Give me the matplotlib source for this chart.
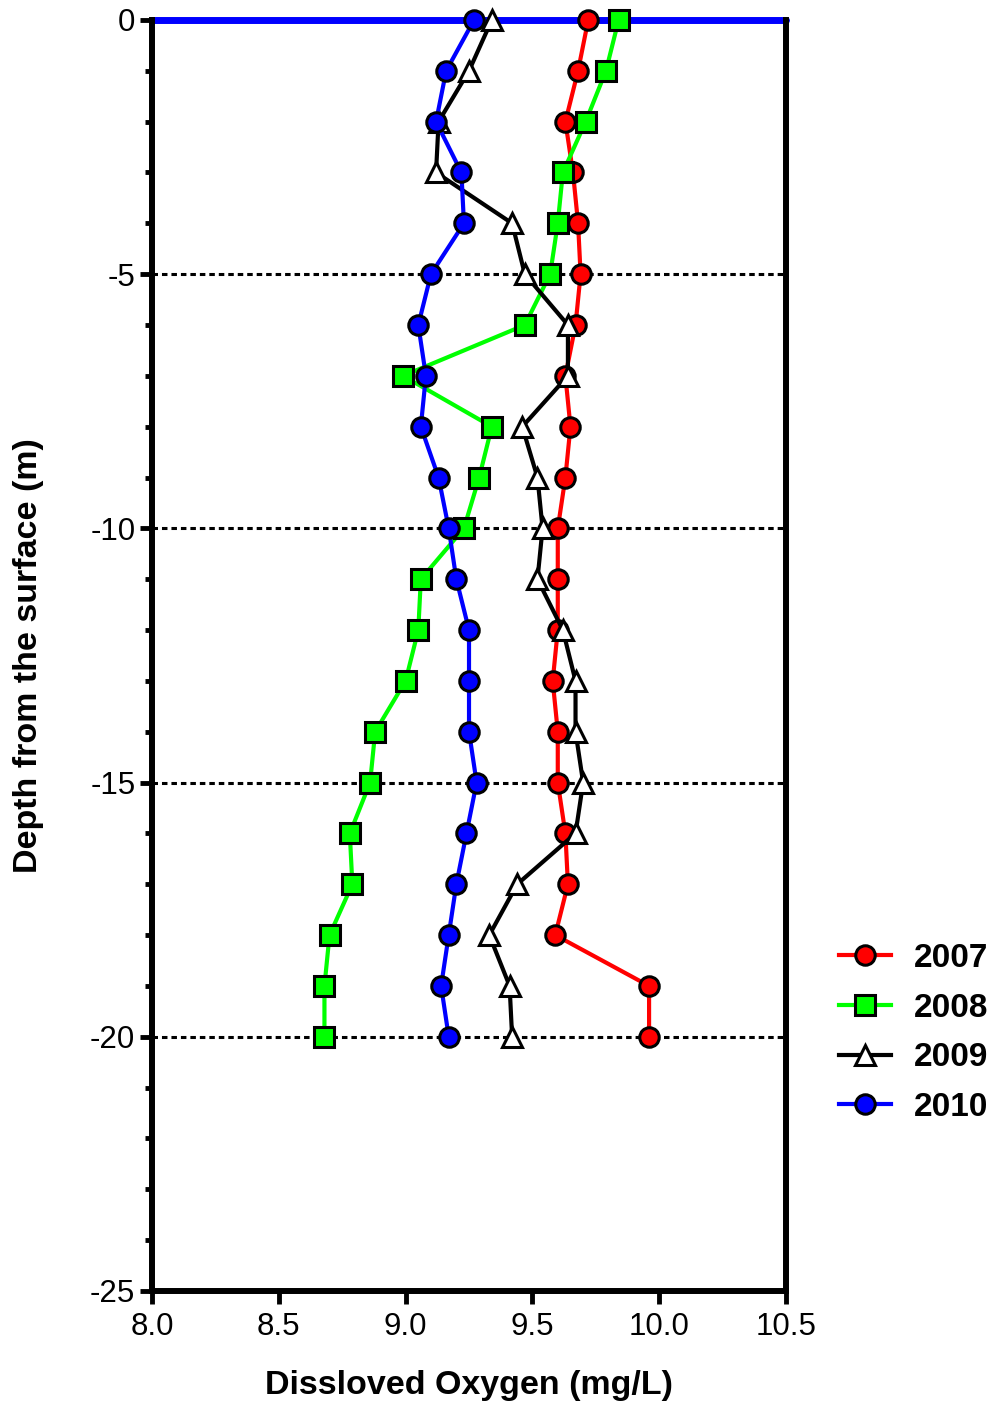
import matplotlib
matplotlib.use("Agg")
import matplotlib.pyplot as plt
import numpy as np

plt.rcParams["font.family"] = ["Liberation Sans", "DejaVu Sans"]
plt.rcParams["axes.unicode_minus"] = False

# Sampling depths (m below the surface)
depth = np.arange(0, -21, -1)

# Dissolved oxygen profiles (mg/L), one value per metre
do_2007 = [9.72, 9.68, 9.63, 9.66, 9.68, 9.69, 9.67, 9.63, 9.65, 9.63, 9.60,
           9.60, 9.60, 9.58, 9.60, 9.60, 9.63, 9.64, 9.59, 9.96, 9.96]
do_2008 = [9.84, 9.79, 9.71, 9.62, 9.60, 9.57, 9.47, 8.99, 9.34, 9.29, 9.23,
           9.06, 9.05, 9.00, 8.88, 8.86, 8.78, 8.79, 8.70, 8.68, 8.68]
do_2009 = [9.34, 9.25, 9.13, 9.12, 9.42, 9.47, 9.64, 9.64, 9.46, 9.52, 9.54,
           9.52, 9.62, 9.67, 9.67, 9.70, 9.67, 9.44, 9.33, 9.41, 9.42]
do_2010 = [9.27, 9.16, 9.12, 9.22, 9.23, 9.10, 9.05, 9.08, 9.06, 9.13, 9.17,
           9.20, 9.25, 9.25, 9.25, 9.28, 9.24, 9.20, 9.17, 9.14, 9.17]

years = ["2007", "2008", "2009", "2010"]
profiles = [do_2007, do_2008, do_2009, do_2010]
colors = ["#ff0000", "#00ff00", "#000000", "#0000ff"]
markers = ["o", "s", "^", "o"]
faces = ["#ff0000", "#00ff00", "#ffffff", "#0000ff"]

fig = plt.figure(figsize=(9.98, 14.06), dpi=100)
ax = fig.add_axes([0.1523, 0.0818, 0.6353, 0.9040])

# surface line
ax.axhline(0, color="#0000ff", lw=5, zorder=1, clip_on=False, solid_capstyle="round")

# reference depths
for d in [-5, -10, -15, -20]:
    ax.axhline(d, color="black", lw=2.2, linestyle=(0, (1.8, 1.3)), zorder=0.5)

for yr, vals, c, m, fc in zip(years, profiles, colors, markers, faces):
    ax.plot(vals, depth, color=c, lw=3, marker=m, markersize=14,
            markerfacecolor=fc, markeredgecolor="black", markeredgewidth=2.2,
            label=yr, clip_on=False, zorder=3)

ax.set_xlim(8.0, 10.5)
ax.set_ylim(-25, 0)
ax.set_xticks([8.0, 8.5, 9.0, 9.5, 10.0, 10.5])
ax.set_xticklabels(["8.0", "8.5", "9.0", "9.5", "10.0", "10.5"])
ax.set_yticks([0, -5, -10, -15, -20, -25])
ax.set_yticks(np.arange(-25, 1, 1), minor=True)

ax.spines["top"].set_visible(False)
for s in ["left", "right", "bottom"]:
    ax.spines[s].set_linewidth(4.3)
    ax.spines[s].set_capstyle("projecting")

ax.tick_params(axis="both", which="major", length=9, width=3.5, labelsize=22.5, pad=3)
ax.tick_params(axis="y", which="minor", length=5, width=3.5)
ax.tick_params(axis="x", which="minor", length=0)
ax.tick_params(axis="x", which="major", pad=6)

ax.set_xlabel("Dissloved Oxygen (mg/L)", fontsize=24.5, fontweight="bold")
ax.set_ylabel("Depth from the surface (m)", fontsize=24.5, fontweight="bold")
ax.xaxis.set_label_coords(0.5, -0.062)
ax.yaxis.set_label_coords(-0.17, 0.5)

fig.legend(loc="center left", bbox_to_anchor=(839 / 998, 1 - 1033 / 1406),
           frameon=False, prop={"size": 24, "weight": "bold"},
           handlelength=1.55, handletextpad=0.7, labelspacing=0.56,
           borderpad=0, borderaxespad=0)

fig.savefig("out.png", dpi=100)
